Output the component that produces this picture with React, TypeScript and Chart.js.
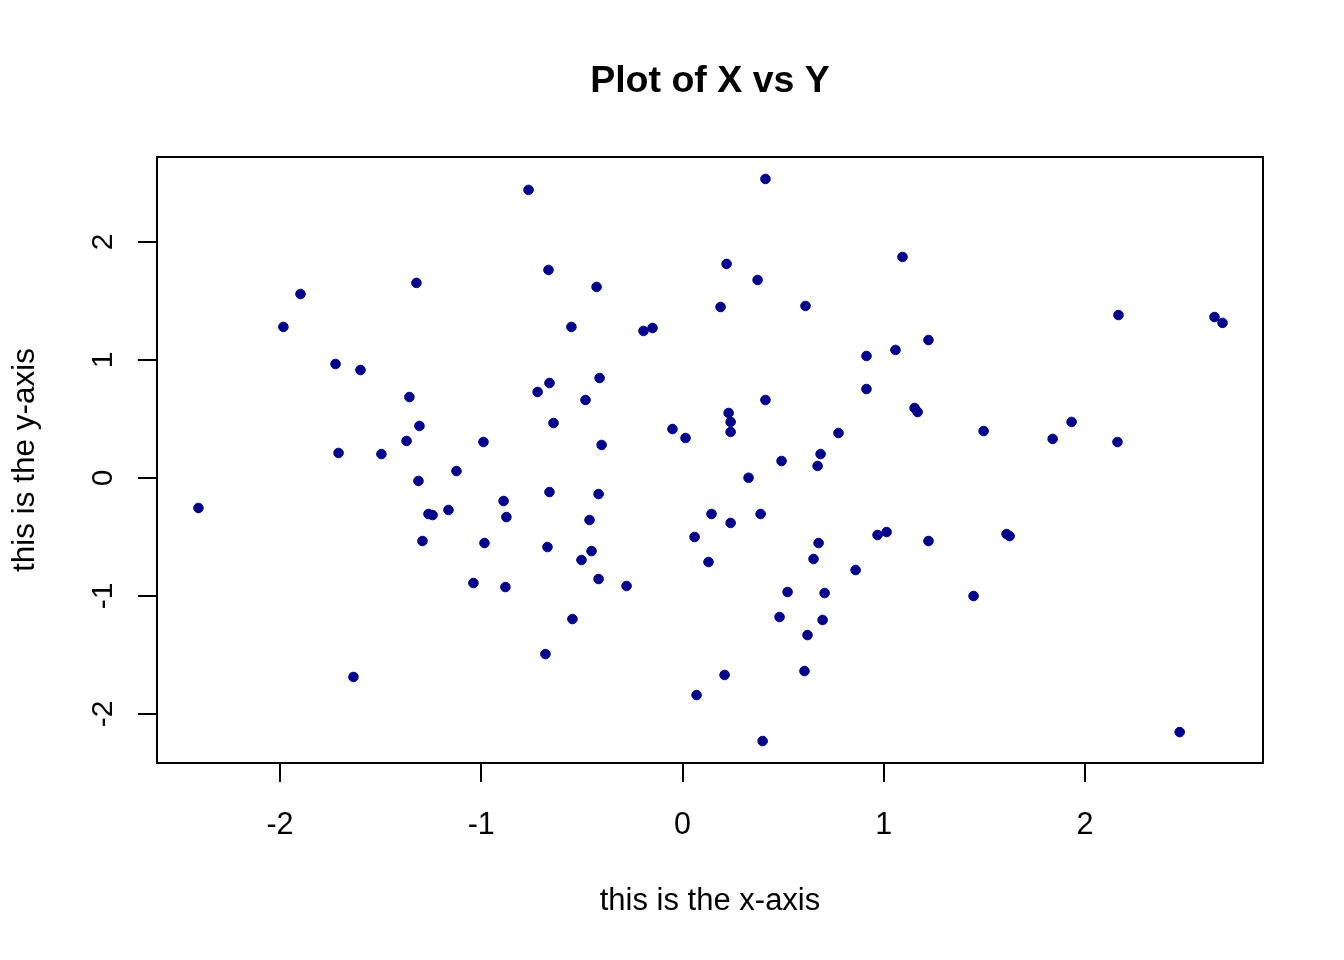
import React, { useEffect, useRef } from "react";
import { Chart, registerables } from "chart.js";

Chart.register(...registerables);

const chartTitle = "Plot of X vs Y";
const xAxisTitle = "this is the x-axis";
const yAxisTitle = "this is the y-axis";

const xTicks = [-2, -1, 0, 1, 2];
const xTickLabels = ["-2", "-1", "0", "1", "2"];
const yTicks = [-2, -1, 0, 1, 2];
const yTickLabels = ["-2", "-1", "0", "1", "2"];

const xRange = [-2.611, 2.884];
const yRange = [-2.415, 2.72];

const xValues = [
  -2.405, -1.983, -1.898, -1.724, -1.6, -1.709, -1.635, -1.496, -1.357, -1.322,
  -1.371, -1.307, -1.312, -1.292, -1.262, -1.242, -1.163, -1.123, -1.039, -0.989,
  -0.984, -0.889, -0.88, -0.875, -0.765, -0.72, -0.681, -0.671, -0.666, -0.661,
  -0.661, -0.641, -0.552, -0.547, -0.502, -0.482, -0.462, -0.452, -0.427, -0.412,
  -0.417, -0.402, -0.417, -0.278, -0.194, -0.149, -0.05, 0.015, 0.06, 0.07,
  0.129, 0.144, 0.189, 0.209, 0.219, 0.229, 0.239, 0.239, 0.239, 0.328,
  0.373, 0.388, 0.398, 0.412, 0.412, 0.482, 0.492, 0.522, 0.611, 0.606,
  0.621, 0.651, 0.671, 0.676, 0.686, 0.696, 0.706, 0.775, 0.86, 0.914,
  0.914, 0.969, 1.014, 1.058, 1.093, 1.153, 1.168, 1.222, 1.222, 1.446,
  1.496, 1.61, 1.625, 1.839, 1.933, 2.161, 2.166, 2.47, 2.643, 2.683,
];

const yValues = [
  -0.254, 1.28, 1.559, 0.966, 0.915, 0.212, -1.686, 0.203, 0.686, 1.653,
  0.314, 0.441, -0.025, -0.534, -0.305, -0.314, -0.271, 0.059, -0.89, 0.305,
  -0.551, -0.195, -0.924, -0.331, 2.441, 0.729, -1.492, -0.585, 1.763, 0.805,
  -0.119, 0.466, 1.28, -1.195, -0.695, 0.661, -0.356, -0.619, 1.619, 0.847,
  -0.136, 0.28, -0.856, -0.915, 1.246, 1.271, 0.415, 0.339, -0.5, -1.839,
  -0.712, -0.305, 1.449, -1.669, 1.814, 0.551, 0.475, 0.39, -0.381, 0.002,
  1.678, -0.305, -2.229, 2.534, 0.661, -1.178, 0.144, -0.966, 1.458, -1.636,
  -1.331, -0.686, 0.102, -0.551, 0.203, -1.203, -0.975, 0.381, -0.78, 1.034,
  0.754, -0.483, -0.458, 1.085, 1.873, 0.593, 0.559, 1.169, -0.534, -1.0,
  0.398, -0.475, -0.492, 0.331, 0.475, 0.305, 1.381, -2.153, 1.364, 1.314,
];

const FONT = "'Liberation Sans', Arial, Helvetica, sans-serif";
const POINT_COLOR = "#00008B";

const decorPlugin = {
  id: "rDecor",
  afterDraw(chart: any) {
    const { ctx, chartArea, scales } = chart;
    const { left, top, right, bottom } = chartArea;
    ctx.save();
    // plot box
    ctx.strokeStyle = "#000";
    ctx.lineWidth = 2;
    ctx.strokeRect(left, top, right - left, bottom - top);

    ctx.fillStyle = "#000";
    // title
    ctx.font = `bold 37.5px ${FONT}`;
    ctx.textAlign = "center";
    ctx.textBaseline = "alphabetic";
    ctx.fillText(chartTitle, (left + right) / 2, 92);

    // x axis title
    ctx.font = `31px ${FONT}`;
    ctx.fillText(xAxisTitle, (left + right) / 2, 910);

    // y axis title
    ctx.save();
    ctx.translate(34, (top + bottom) / 2);
    ctx.rotate(-Math.PI / 2);
    ctx.font = `31.5px ${FONT}`;
    ctx.fillText(yAxisTitle, 0, 0);
    ctx.restore();

    // y tick labels (rotated as in R)
    ctx.font = `30px ${FONT}`;
    const ys = scales.y;
    yTicks.forEach((v, i) => {
      const py = ys.getPixelForValue(v);
      ctx.save();
      ctx.translate(101, py);
      ctx.rotate(-Math.PI / 2);
      ctx.textAlign = "center";
      ctx.textBaseline = "alphabetic";
      ctx.fillText(yTickLabels[i], 0, 10.7);
      ctx.restore();
    });
    ctx.restore();
  },
};

export default function App() {
  const canvasRef = useRef<HTMLCanvasElement | null>(null);

  useEffect(() => {
    if (!canvasRef.current) return;
    const points = xValues.map((x, i) => ({ x, y: yValues[i] }));
    const chart = new Chart(canvasRef.current, {
      type: "scatter",
      data: {
        datasets: [
          {
            data: points,
            pointRadius: 4.8,
            pointHoverRadius: 4.8,
            pointBackgroundColor: POINT_COLOR,
            pointBorderColor: POINT_COLOR,
            pointBorderWidth: 1,
            clip: false as any,
          },
        ],
      },
      options: {
        responsive: false,
        animation: false,
        devicePixelRatio: 1,
        layout: { padding: { left: 0, top: 157, right: 81, bottom: 0 } },
        plugins: {
          legend: { display: false },
          tooltip: { enabled: false },
          title: { display: false },
        },
        scales: {
          x: {
            type: "linear",
            position: "bottom",
            min: xRange[0],
            max: xRange[1],
            afterBuildTicks: (scale: any) => {
              scale.ticks = xTicks.map((v) => ({ value: v }));
            },
            afterFit: (scale: any) => {
              scale.height = 197;
            },
            grid: {
              display: true,
              drawOnChartArea: false,
              drawTicks: true,
              tickLength: 19,
              color: "#000",
              lineWidth: 2,
            },
            border: { display: false },
            ticks: {
              color: "#000",
              font: { size: 30.5, family: FONT },
              padding: 25,
              maxRotation: 0,
              minRotation: 0,
              autoSkip: false,
              callback: (value: any) => {
                const idx = xTicks.indexOf(Number(value));
                return idx >= 0 ? xTickLabels[idx] : "";
              },
            },
          },
          y: {
            type: "linear",
            position: "left",
            min: yRange[0],
            max: yRange[1],
            afterBuildTicks: (scale: any) => {
              scale.ticks = yTicks.map((v) => ({ value: v }));
            },
            afterFit: (scale: any) => {
              scale.width = 157;
            },
            grid: {
              display: true,
              drawOnChartArea: false,
              drawTicks: true,
              tickLength: 19,
              color: "#000",
              lineWidth: 2,
            },
            border: { display: false },
            ticks: { display: false },
          },
        },
      },
      plugins: [decorPlugin],
    });
    return () => chart.destroy();
  }, []);

  return (
    <div style={{ position: "absolute", left: 0, top: 0, width: 1344, height: 960, background: "#fff" }}>
      <canvas ref={canvasRef} width={1344} height={960} style={{ display: "block" }} />
    </div>
  );
}
